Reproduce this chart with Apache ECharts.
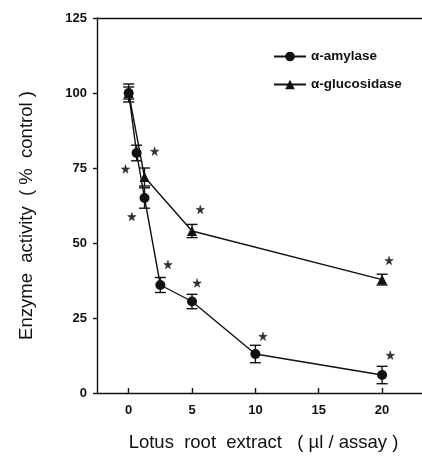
<!DOCTYPE html>
<html>
<head>
<meta charset="utf-8">
<script src="https://cdn.jsdelivr.net/npm/echarts@6/dist/echarts.min.js"></script>
<style>
  html, body { margin: 0; padding: 0; background: #fff; }
  #chart { width: 422px; height: 457px; }
</style>
</head>
<body>
<div id="chart"></div>
<script>
// data
const doseAmylase = [0, 0.625, 1.25, 2.5, 5, 10, 20];
const amylase = [100, 80, 65, 36, 30.5, 13, 6];
const amylaseErr = [2, 2.6, 3.4, 2.5, 2.4, 2.9, 2.9];
const doseGluco = [0, 1.25, 5, 20];
const gluco = [100, 72, 54, 37.8];
const glucoErr = [3, 3, 2.2, 1.8];
// significance stars (x, y)
const stars = [[-0.25, 74.7], [2.05, 80.6], [0.25, 58.8], [5.65, 61.2], [3.1, 42.8],
  [5.4, 36.7], [20.55, 44.2], [10.6, 18.9], [20.65, 12.6]];
const xTicks = [0, 5, 10, 15, 20];

const ink = "#111";
const font = "Liberation Sans";

function pairs(xs, ys) {
  return xs.map((x, i) => [x, ys[i]]);
}
function errData(xs, ys, es) {
  return xs.map((x, i) => [x, ys[i] - es[i], ys[i] + es[i]]);
}

// error bar with caps
function renderErr(params, api) {
  const x = api.value(0);
  const lo = api.coord([x, api.value(1)]);
  const hi = api.coord([x, api.value(2)]);
  const w = 5.5;
  const st = { stroke: ink, lineWidth: 1.4 };
  return {
    type: "group",
    children: [
      { type: "line", shape: { x1: lo[0], y1: lo[1], x2: hi[0], y2: hi[1] }, style: st },
      { type: "line", shape: { x1: lo[0] - w, y1: lo[1], x2: lo[0] + w, y2: lo[1] }, style: st },
      { type: "line", shape: { x1: hi[0] - w, y1: hi[1], x2: hi[0] + w, y2: hi[1] }, style: st }
    ]
  };
}

const starPath = "path://M50,0 L61,35 L98,35 L68,57 L79,91 L50,70 L21,91 L32,57 L2,35 L39,35 Z";

let chart = echarts.init(document.getElementById("chart"));
chart.setOption({
  animation: false,
  backgroundColor: "#fff",
  grid: { left: 97, right: 0, top: 18, bottom: 64 },
  legend: {
    orient: "vertical",
    left: 268,
    top: 44,
    itemWidth: 32,
    itemHeight: 12,
    itemGap: 13,
    data: ["α-amylase", "α-glucosidase"],
    textStyle: { fontFamily: font, fontWeight: "bold", fontSize: 13.5, color: ink, lineHeight: 15 }
  },
  xAxis: [
    {
      type: "value",
      min: -2.5,
      max: 23.15,
      splitLine: { show: false },
      axisLine: { onZero: false, lineStyle: { color: ink, width: 1.4 } },
      axisTick: { inside: true, length: 5, customValues: xTicks, lineStyle: { color: ink, width: 1.4 } },
      axisLabel: { customValues: xTicks, margin: 11, fontFamily: font, fontWeight: "bold", fontSize: 13, color: ink },
      name: "Lotus  root  extract   ( µl / assay )",
      nameLocation: "middle",
      nameGap: 40,
      nameTextStyle: { fontFamily: font, fontSize: 18.5, color: ink, padding: [0, 0, 0, 8] }
    },
    {
      type: "value",
      position: "top",
      min: -2.5,
      max: 23.15,
      splitLine: { show: false },
      axisLine: { onZero: false, lineStyle: { color: ink, width: 1.4 } },
      axisTick: { show: false },
      axisLabel: { show: false }
    }
  ],
  yAxis: {
    type: "value",
    min: 0,
    max: 125,
    interval: 25,
    splitLine: { show: false },
    axisLine: { show: true, onZero: false, lineStyle: { color: ink, width: 1.4 } },
    axisTick: { show: true, length: 4, lineStyle: { color: ink, width: 1.4 } },
    axisLabel: { margin: 10, fontFamily: font, fontWeight: "bold", fontSize: 13, color: ink },
    name: "Enzyme  activity  ( %  control )",
    nameLocation: "middle",
    nameGap: 61,
    nameTextStyle: { fontFamily: font, fontSize: 18.5, color: ink, padding: [0, 20, 0, 0] }
  },
  series: [
    {
      type: "custom",
      renderItem: renderErr,
      data: errData(doseAmylase, amylase, amylaseErr),
      z: 1,
      silent: true
    },
    {
      type: "custom",
      renderItem: renderErr,
      data: errData(doseGluco, gluco, glucoErr),
      z: 1,
      silent: true
    },
    {
      name: "α-glucosidase",
      type: "line",
      data: pairs(doseGluco, gluco),
      symbol: "triangle",
      symbolSize: 10,
      showAllSymbol: true,
      itemStyle: { color: ink },
      lineStyle: { color: ink, width: 1.4 },
      z: 2
    },
    {
      name: "α-amylase",
      type: "line",
      data: pairs(doseAmylase, amylase),
      symbol: "circle",
      symbolSize: 10,
      showAllSymbol: true,
      itemStyle: { color: ink },
      lineStyle: { color: ink, width: 1.4 },
      z: 3
    },
    {
      type: "scatter",
      data: stars,
      symbol: starPath,
      symbolSize: 8.5,
      itemStyle: { color: "#000", borderColor: "#000", borderWidth: 0.5 },
      silent: true
    }
  ]
});
window.addEventListener("resize", function() {
  chart.resize();
});
</script>
</body>
</html>
